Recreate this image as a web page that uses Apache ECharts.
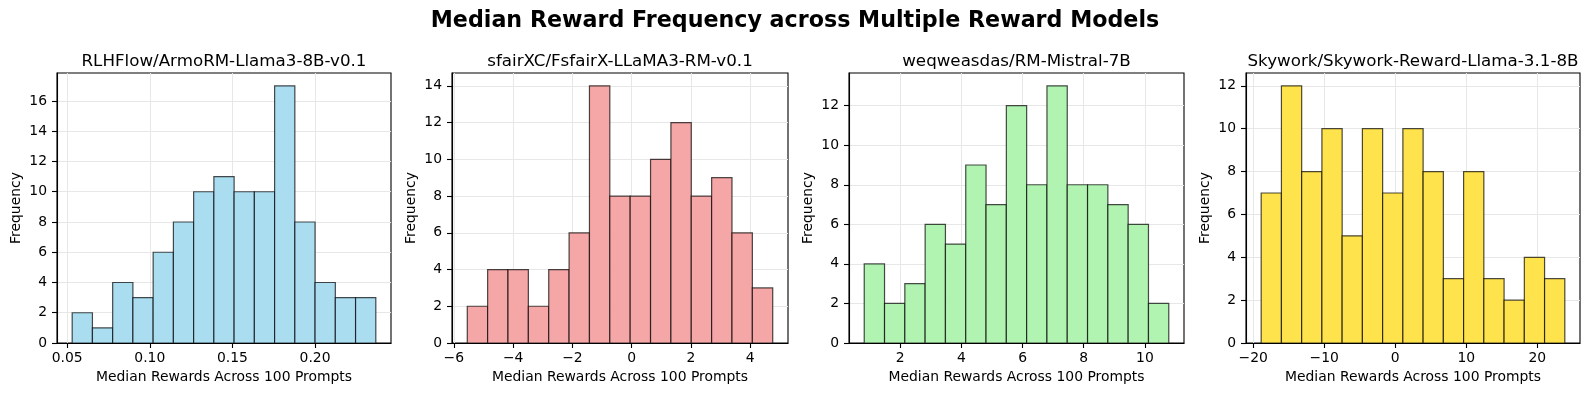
<!DOCTYPE html>
<html>
<head>
<meta charset="utf-8">
<script src="https://cdn.jsdelivr.net/npm/echarts@6/dist/echarts.min.js"></script>
<style>
html,body{margin:0;padding:0;background:#fff;}
#chart{width:1590px;height:396px;}
</style>
</head>
<body>
<div id="chart"></div>
<script>
// ---- data ----
const mainTitle = 'Median Reward Frequency across Multiple Reward Models';
const modelNames = [
  'RLHFlow/ArmoRM-Llama3-8B-v0.1',
  'sfairXC/FsfairX-LLaMA3-RM-v0.1',
  'weqweasdas/RM-Mistral-7B',
  'Skywork/Skywork-Reward-Llama-3.1-8B'
];
// histogram counts (15 equal bins each)
const countsArmo = [2, 1, 4, 3, 6, 8, 10, 11, 10, 10, 17, 8, 4, 3, 3];
const countsFsfair = [2, 4, 4, 2, 4, 6, 14, 8, 8, 10, 12, 8, 9, 6, 3];
const countsMistral = [4, 2, 3, 6, 5, 9, 7, 12, 8, 13, 8, 8, 7, 6, 2];
const countsSkywork = [7, 12, 8, 10, 5, 10, 7, 10, 8, 3, 8, 3, 2, 4, 3];
// outer bin edges [first, last]
const edgesArmo = [0.0530, 0.2368];
const edgesFsfair = [-5.547, 4.757];
const edgesMistral = [0.824, 10.78];
const edgesSkywork = [-18.88, 23.88];
// tick labels
const xTicksArmo = [0.05, 0.10, 0.15, 0.20];
const xTicksFsfair = [-6, -4, -2, 0, 2, 4];
const xTicksMistral = [2, 4, 6, 8, 10];
const xTicksSkywork = [-20, -10, 0, 10, 20];
const yTicksArmo = [0, 2, 4, 6, 8, 10, 12, 14, 16];
const yTicksFsfair = [0, 2, 4, 6, 8, 10, 12, 14];
const yTicksMistral = [0, 2, 4, 6, 8, 10, 12];
const yTicksSkywork = [0, 2, 4, 6, 8, 10, 12];
const xLabel = 'Median Rewards Across 100 Prompts';
const yLabel = 'Frequency';

// ---- styles / layout ----
const colors = ['rgb(171,221,241)', 'rgb(245,166,166)', 'rgb(177,243,177)', 'rgb(255,227,77)'];
const gridLefts = [57, 452, 849, 1246];
const gridWidths = [334, 336, 335, 334];
const gridTop = 73, gridHeight = 270;
const decimals = [2, 0, 0, 0];
const FONT = 'DejaVu Sans';

const allCounts = [countsArmo, countsFsfair, countsMistral, countsSkywork];
const allEdges = [edgesArmo, edgesFsfair, edgesMistral, edgesSkywork];
const allXTicks = [xTicksArmo, xTicksFsfair, xTicksMistral, xTicksSkywork];
const allYTicks = [yTicksArmo, yTicksFsfair, yTicksMistral, yTicksSkywork];

function fmt(v, d) {
  return v.toFixed(d).replace('-', '\u2212');
}

const grids = [], xAxes = [], yAxes = [], series = [], titles = [];
titles.push({
  text: mainTitle, left: 'center', top: 5,
  textStyle: {fontFamily: FONT, fontSize: 22.2, fontWeight: 'bold', color: '#000'}
});
for (let i = 0; i < 4; i++) {
  const counts = allCounts[i];
  const [lo, hi] = allEdges[i];
  const n = counts.length;
  const w = (hi - lo) / n;
  const data = counts.map((c, k) => [lo + k * w, lo + (k + 1) * w, c]);
  const pad = 0.05 * (hi - lo);
  const ymax = Math.max(...counts) * 1.05;
  grids.push({left: gridLefts[i], top: gridTop, width: gridWidths[i], height: gridHeight,
    show: true, borderColor: '#000', borderWidth: 1.1, backgroundColor: 'transparent', containLabel: false});
  titles.push({
    text: modelNames[i], left: gridLefts[i] + gridWidths[i] / 2 - 5, top: 48, textAlign: 'center',
    textStyle: {fontFamily: FONT, fontSize: 16.7, fontWeight: 'normal', color: '#000'}
  });
  const d = decimals[i];
  xAxes.push({
    type: 'value', gridIndex: i, min: lo - pad, max: hi + pad,
    name: xLabel, nameLocation: 'middle', nameGap: 27,
    nameTextStyle: {fontFamily: FONT, fontSize: 13.9, color: '#000'},
    axisLine: {show: true, onZero: false, lineStyle: {color: '#000', width: 1.1}},
    axisTick: {show: true, length: 5, lineStyle: {color: '#000', width: 1.1}, customValues: allXTicks[i]},
    axisLabel: {show: true, margin: 8, fontFamily: FONT, fontSize: 13.9, color: '#000',
      customValues: allXTicks[i], formatter: v => fmt(v, d)},
    splitLine: {show: true, lineStyle: {color: '#e7e7e7', width: 1}}
  });
  yAxes.push({
    type: 'value', gridIndex: i, min: 0, max: ymax,
    name: yLabel, nameLocation: 'middle', nameGap: 34, nameRotate: 90,
    nameTextStyle: {fontFamily: FONT, fontSize: 13.9, color: '#000'},
    axisLine: {show: true, onZero: false, lineStyle: {color: '#000', width: 1.1}},
    axisTick: {show: true, length: 5, lineStyle: {color: '#000', width: 1.1}, customValues: allYTicks[i]},
    axisLabel: {show: true, margin: 10, fontFamily: FONT, fontSize: 13.9, color: '#000',
      customValues: allYTicks[i], formatter: v => String(v)},
    splitLine: {show: true, lineStyle: {color: '#e7e7e7', width: 1}}
  });
  const color = colors[i];
  series.push({
    type: 'custom', xAxisIndex: i, yAxisIndex: i, data: data,
    encode: {x: [0, 1], y: 2},
    renderItem: (params, api) => {
      const p0 = api.coord([api.value(0), api.value(2)]);
      const p1 = api.coord([api.value(1), 0]);
      return {
        type: 'rect',
        shape: {x: p0[0], y: p0[1], width: p1[0] - p0[0], height: p1[1] - p0[1]},
        style: {fill: color, stroke: 'rgba(0,0,0,0.7)', lineWidth: 1.2}
      };
    }
  });
}

const chart = echarts.init(document.getElementById('chart'), null, {renderer: 'canvas'});
chart.setOption({
  animation: false,
  backgroundColor: '#fff',
  title: titles,
  grid: grids,
  xAxis: xAxes,
  yAxis: yAxes,
  series: series
});
</script>
</body>
</html>
